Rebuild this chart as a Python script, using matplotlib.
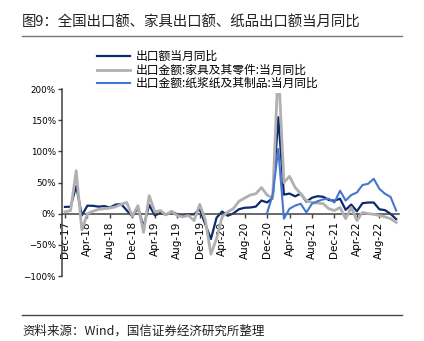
import numpy as np
import matplotlib
matplotlib.use("Agg")
import matplotlib.pyplot as plt
from matplotlib.ticker import PercentFormatter
from matplotlib.lines import Line2D

cjk = ['Noto Sans CJK SC', 'DejaVu Sans']

# monthly, Dec-17 .. Nov-22
months = ['Dec-17', 'Jan-18', 'Feb-18', 'Mar-18', 'Apr-18', 'May-18', 'Jun-18', 'Jul-18',
          'Aug-18', 'Sep-18', 'Oct-18', 'Nov-18', 'Dec-18', 'Jan-19', 'Feb-19', 'Mar-19',
          'Apr-19', 'May-19', 'Jun-19', 'Jul-19', 'Aug-19', 'Sep-19', 'Oct-19', 'Nov-19',
          'Dec-19', 'Jan-20', 'Feb-20', 'Mar-20', 'Apr-20', 'May-20', 'Jun-20', 'Jul-20',
          'Aug-20', 'Sep-20', 'Oct-20', 'Nov-20', 'Dec-20', 'Jan-21', 'Feb-21', 'Mar-21',
          'Apr-21', 'May-21', 'Jun-21', 'Jul-21', 'Aug-21', 'Sep-21', 'Oct-21', 'Nov-21',
          'Dec-21', 'Jan-22', 'Feb-22', 'Mar-22', 'Apr-22', 'May-22', 'Jun-22', 'Jul-22',
          'Aug-22', 'Sep-22', 'Oct-22', 'Nov-22']

export_yoy = [10.9, 11.1, 44.5, -2.7, 12.9, 12.6, 11.3, 12.2, 9.8, 14.5, 15.6, 5.4,
              -4.4, 9.1, -20.7, 14.2, -2.7, 1.1, -1.3, 3.3, -1.0, -3.2, -0.9, -1.1,
              7.6, -17.2, -40.6, -6.6, 3.5, -3.3, 0.5, 7.2, 9.5, 9.9, 11.4, 21.1,
              18.1, 24.9, 154.9, 30.6, 32.3, 27.9, 32.2, 19.3, 25.6, 28.1, 27.1, 22.0,
              20.9, 24.1, 6.2, 14.7, 3.9, 16.9, 17.9, 18.0, 7.1, 5.7, -0.3, -8.7]

furniture_yoy = [3, 5, 69, -26, 0, 4, 7, 8, 9, 11, 15, 18,
                 -4, 13, -30, 29, 3, 5, -2, 4, -3, -5, -3, -11,
                 15, -10, -65, -40, -5, 3, 8, 20, 25, 30, 32, 42,
                 30, 25, 240, 50, 60, 42, 32, 21, 18, 17, 16, 8,
                 5, 10, -8, 10, -11, 2, 0, -1, -3, -5, -8, -14]

paper_yoy = [np.nan] * 36 + [1, 30, 104, -8, 8, 13, 16, 2, 16, 20, 23, 24,
                             18, 37, 21, 30, 34, 46, 48, 56, 40, 32, 27, 5]

labels = ['出口额当月同比', '出口金额:家具及其零件:当月同比', '出口金额:纸浆纸及其制品:当月同比']
colors = ['#0d2a6e', '#b0b0b0', '#4676d0']
widths = [1.6, 2.0, 1.5]

fig = plt.figure(figsize=(4.24, 3.41), dpi=100)
ax = fig.add_axes([0.1462, 0.1906, 0.7948, 0.5701])

x = np.arange(len(months))
for k, ys in enumerate([export_yoy, furniture_yoy, paper_yoy]):
    ax.plot(x, ys, color=colors[k], lw=widths[k], zorder=2 + k)

ax.set_xlim(-0.53, 59.5)
ax.set_ylim(-100, 212)
ax.set_yticks([-100, -50, 0, 50, 100, 150, 200])
ax.yaxis.set_major_formatter(PercentFormatter(decimals=0))
ax.set_xticks(x[::4])
ax.set_xticklabels(months[::4])

for s in ['top', 'right']:
    ax.spines[s].set_visible(False)
ax.spines['bottom'].set_position(('data', 0))
ax.spines['left'].set_bounds(-100, 200)
for s in ['left', 'bottom']:
    ax.spines[s].set_color('#404040')
    ax.spines[s].set_linewidth(1.1)
ax.tick_params(axis='y', labelsize=6.3, length=3, width=1, color='#404040', pad=1.5)
ax.tick_params(axis='x', labelsize=7.5, length=3, width=1, color='#404040', pad=2.5,
               labelrotation=90)
for t in ax.get_xticklabels():
    t.set_va('top')
    t.set_ha('center')

handles = [Line2D([], [], color=colors[k], lw=widths[k]) for k in range(3)]
leg = fig.legend(handles, labels, loc='upper left', bbox_to_anchor=(0.224, 0.86),
                 frameon=True, fancybox=False, edgecolor='none', framealpha=1,
                 borderpad=0.2, borderaxespad=0, handlelength=2.8, handletextpad=0.45,
                 labelspacing=0.05, prop={'family': cjk, 'size': 8.5})
leg.set_zorder(10)

fig.text(22 / 424, 1 - 23 / 341, '图9：全国出口额、家具出口额、纸品出口额当月同比',
         family=cjk, fontsize=10.4, va='center', ha='left', color='#222222')
fig.add_artist(Line2D([22 / 424, 402 / 424], [1 - 36 / 341, 1 - 36 / 341],
                      color='#777777', lw=1))
fig.add_artist(Line2D([22 / 424, 402 / 424], [1 - 315 / 341, 1 - 315 / 341],
                      color='#444444', lw=1))
fig.text(22 / 424, 1 - 331 / 341, '资料来源：Wind，国信证券经济研究所整理',
         family=cjk, fontsize=9, va='center', ha='left', color='#222222')

fig.savefig('out.png', dpi=100)
